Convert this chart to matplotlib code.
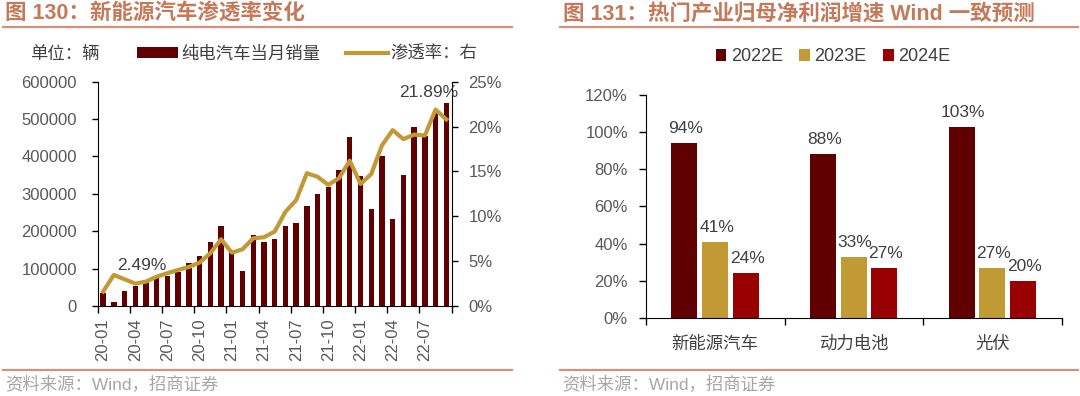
import matplotlib
matplotlib.use('Agg')
import matplotlib.pyplot as plt
from matplotlib.lines import Line2D
from matplotlib.ticker import FuncFormatter
import numpy as np

plt.rcParams['font.family'] = ['Liberation Sans', 'Noto Sans CJK SC']

## ------------  Data: left chart  ---------------
months = ['20-01', '20-02', '20-03', '20-04', '20-05', '20-06', '20-07', '20-08', '20-09',
          '20-10', '20-11', '20-12', '21-01', '21-02', '21-03', '21-04', '21-05', '21-06',
          '21-07', '21-08', '21-09', '21-10', '21-11', '21-12', '22-01', '22-02', '22-03',
          '22-04', '22-05', '22-06', '22-07', '22-08', '22-09']
bev_sales = [34000, 11000, 41000, 54000, 65000, 80000, 81000, 90000, 114000,
             134000, 171000, 214000, 145000, 94000, 190000, 172000, 179000, 214000,
             221000, 268000, 300000, 318000, 364000, 452000, 349000, 259000, 400000,
             232000, 350000, 479000, 455000, 520000, 543000]
pen_rate = [1.60, 3.46, 2.98, 2.49, 2.72, 3.27, 3.65, 4.02, 4.35,
            4.84, 5.88, 7.44, 5.95, 6.32, 7.55, 7.66, 8.30, 10.5,
            11.8, 14.8, 14.4, 13.5, 14.25, 16.2, 13.6, 14.7, 17.9,
            19.6, 18.6, 19.1, 19.0, 21.89, 20.8]
# labelled points: (index, text)
rate_notes = [(3, '2.49%'), (31, '21.89%')]

## ------------  Data: right chart  ---------------
industries = ['新能源汽车', '动力电池', '光伏']
years = ['2022E', '2023E', '2024E']
growth_2022 = [94, 88, 103]
growth_2023 = [41, 33, 27]
growth_2024 = [24, 27, 20]

## ------------  Styles  ---------------
C_BAR = '#600000'
C_GOLD = '#C19A36'
C_RED = '#990000'
C_TITLE = '#C47A5A'
C_RULE = '#D4917A'
C_TICK = '#595959'
C_LABEL = '#404040'
C_SRC = '#A6A6A6'
FS = 12.5

W, H = 1080, 396
fig = plt.figure(figsize=(W / 100, H / 100), dpi=100)

def px(x, y):
	# pixel coords (from top-left) -> figure fraction
	return x / W, 1 - y / H

## ------------  Left chart  ---------------
ax1 = fig.add_axes([0.0905, 0.2273, 0.3277, 0.5664])
x = np.arange(len(months))
bars = ax1.bar(x, bev_sales, width=0.5, color=C_BAR, label='纯电汽车当月销量', zorder=2)
ax1.set_xlim(-0.5, len(months) - 0.5)
ax1.set_ylim(0, 600000)
ax1.set_yticks(np.arange(0, 600001, 100000))
ax1.yaxis.set_major_formatter(FuncFormatter(lambda v, p: '%d' % v))
ax1.set_xticks(np.arange(-0.5, len(months), 3))
ax1.set_xticklabels([])
ax1.set_xticks(x[::3], minor=True)
ax1.set_xticklabels(months[::3], minor=True, rotation=90)
ax1.tick_params(axis='x', which='major', direction='out', length=5, width=1)
ax1.tick_params(axis='x', which='minor', length=0, pad=9, labelsize=12, labelcolor=C_TICK)
ax1.tick_params(axis='y', direction='out', length=4, width=1, pad=11, labelsize=12, labelcolor=C_TICK)
for s in ['top', 'right']:
	ax1.spines[s].set_visible(False)

ax2 = ax1.twinx()
line, = ax2.plot(x, pen_rate, color=C_GOLD, lw=3, label='渗透率：右', zorder=3)
ax2.set_ylim(0, 25)
ax2.set_yticks(np.arange(0, 26, 5))
ax2.yaxis.set_major_formatter(FuncFormatter(lambda v, p: '%d%%' % v))
ax2.tick_params(axis='y', direction='out', length=4, width=1, pad=8, labelsize=12, labelcolor=C_TICK)
for s in ['top', 'left', 'bottom']:
	ax2.spines[s].set_visible(False)

offs = {3: (5, 13), 31: (-5, 12)}
for i, txt in rate_notes:
	ax2.annotate(txt, (x[i], pen_rate[i]), xytext=offs[i], textcoords='offset points',
		ha='center', va='center', fontsize=FS, color=C_LABEL, zorder=4)

fig.text(*px(30, 53.5), '单位：辆', fontsize=FS, color=C_LABEL, va='center', ha='left')
fig.legend([bars, line], ['纯电汽车当月销量', '渗透率：右'], ncol=2, loc='center',
	bbox_to_anchor=px(307, 53.5), frameon=False, fontsize=FS, handlelength=2.4,
	handleheight=0.6, handletextpad=0.15, columnspacing=1.5, borderpad=0, borderaxespad=0,
	labelcolor=C_LABEL)

## ------------  Right chart  ---------------
ax3 = fig.add_axes([0.5981, 0.1970, 0.3849, 0.5631])
cx = np.arange(len(industries)) + 0.5
series = [growth_2022, growth_2023, growth_2024]
colors = [C_BAR, C_GOLD, C_RED]
shifts = [-0.222, 0.0, 0.221]
for vals, col, sh, yr in zip(series, colors, shifts, years):
	b = ax3.bar(cx + sh, vals, width=0.188, color=col, label=yr, zorder=2)
	for rect, v in zip(b, vals):
		ax3.annotate('%d%%' % v, (rect.get_x() + rect.get_width() / 2, v),
			xytext=(1, 10.5), textcoords='offset points', ha='center', va='center',
			fontsize=FS, color=C_LABEL)
ax3.set_xlim(0, len(industries))
ax3.set_ylim(0, 120)
ax3.set_yticks(np.arange(0, 121, 20))
ax3.yaxis.set_major_formatter(FuncFormatter(lambda v, p: '%d%%' % v))
ax3.set_xticks(np.arange(0, len(industries) + 1))
ax3.set_xticklabels([])
ax3.set_xticks(cx, minor=True)
ax3.set_xticklabels(industries, minor=True)
ax3.tick_params(axis='x', which='major', direction='out', length=5, width=1)
ax3.tick_params(axis='x', which='minor', length=0, pad=13, labelsize=FS, labelcolor=C_LABEL)
ax3.tick_params(axis='y', direction='out', length=5, width=1, pad=8, labelsize=12, labelcolor=C_TICK)
for s in ['top', 'right']:
	ax3.spines[s].set_visible(False)
ax3.legend(ncol=3, loc='center', bbox_to_anchor=px(833, 56.7), bbox_transform=fig.transFigure,
	frameon=False, fontsize=13, handlelength=0.6, handleheight=0.6, handletextpad=0.25,
	columnspacing=0.9, borderpad=0, borderaxespad=0, labelcolor=C_LABEL)

## ------------  Titles, rules, sources  ---------------
fig.text(*px(5, 14), '图 130：新能源汽车渗透率变化', fontsize=15.5, fontweight='bold',
	color=C_TITLE, va='center', ha='left')
fig.text(*px(563, 14), '图 131：热门产业归母净利润增速 Wind 一致预测', fontsize=15.5,
	fontweight='bold', color=C_TITLE, va='center', ha='left')
for x0, x1 in [(3, 512), (560, 1078)]:
	for yy in [27, 370]:
		fig.add_artist(Line2D([x0 / W, x1 / W], [1 - yy / H] * 2, color=C_RULE, lw=1.6))
	fig.text(*px(x0 + 2, 384), '资料来源：Wind，招商证券', fontsize=12.5, color=C_SRC,
		va='center', ha='left')

fig.savefig('out.png', dpi=100)
